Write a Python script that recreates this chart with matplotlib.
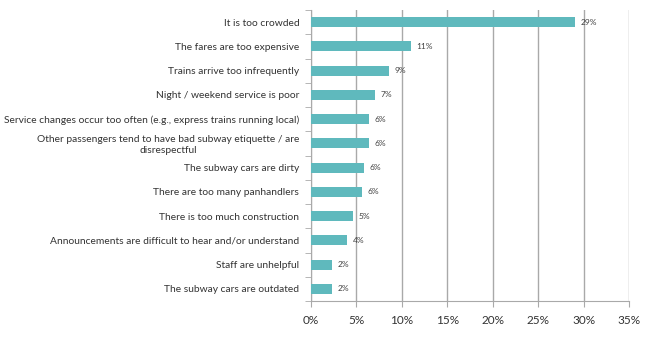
import numpy as np
import matplotlib.pyplot as plt
from matplotlib.ticker import FuncFormatter

plt.rcParams['font.family'] = ['Lato', 'DejaVu Sans']

reasons = [
    "It is too crowded",
    "The fares are too expensive",
    "Trains arrive too infrequently",
    "Night / weekend service is poor",
    "Service changes occur too often (e.g., express trains running local)",
    "Other passengers tend to have bad subway etiquette / are\ndisrespectful",
    "The subway cars are dirty",
    "There are too many panhandlers",
    "There is too much construction",
    "Announcements are difficult to hear and/or understand",
    "Staff are unhelpful",
    "The subway cars are outdated",
]
shares = [29.1, 11.0, 8.6, 7.0, 6.35, 6.35, 5.8, 5.6, 4.6, 4.0, 2.3, 2.3]
xticks = [0, 5, 10, 15, 20, 25, 30, 35]

bar_color = "#5fb9bd"
grid_color = "#a9a9a9"

fig = plt.figure(figsize=(6.5, 3.46), dpi=100)
ax = fig.add_axes([311 / 650, 1 - 301 / 346, 318 / 650, 291 / 346])

y = np.arange(len(reasons))
ax.barh(y, shares, height=0.42, color=bar_color, zorder=3)
for yi, v in zip(y, shares):
    ax.text(v + 0.6, yi, f"{v:.0f}%", va="center", ha="left",
            fontsize=6, color="#404040")

ax.set_ylim(len(reasons) - 0.5, -0.5)
ax.set_xlim(0, 35)
ax.set_xticks(xticks)
ax.xaxis.set_major_formatter(FuncFormatter(lambda v, _: f"{v:.0f}%"))
ax.xaxis.grid(True, color=grid_color, linewidth=1.0, zorder=0)

# category labels sit on the centres, tick marks on the boundaries
ax.set_yticks(y)
ax.set_yticklabels(reasons, fontsize=7.4, color="#333333", linespacing=1.25,
                   multialignment="center")
ax.set_yticks(np.arange(len(reasons) + 1) - 0.5, minor=True)
ax.tick_params(axis="y", which="major", length=0, pad=8.5)
ax.tick_params(axis="y", which="minor", length=4, color=grid_color)
ax.tick_params(axis="x", length=4, color=grid_color, labelsize=8.5,
               labelcolor="#333333", pad=6)

for side in ("top", "right"):
    ax.spines[side].set_visible(False)
for side in ("left", "bottom"):
    ax.spines[side].set_color(grid_color)

fig.savefig("out.png", dpi=100)
